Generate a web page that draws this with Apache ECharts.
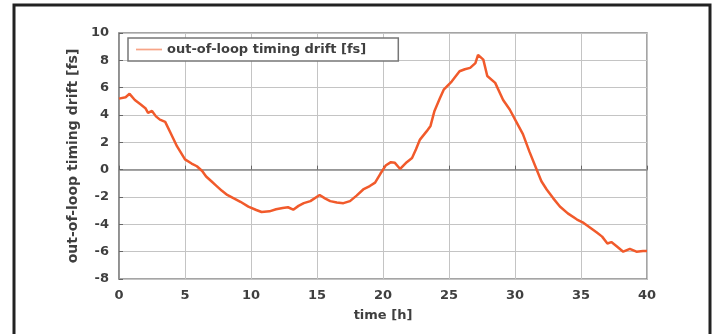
<!DOCTYPE html>
<html>
<head>
<meta charset="utf-8">
<script src="https://cdn.jsdelivr.net/npm/echarts@6/dist/echarts.min.js"></script>
<style>
  html, body { margin: 0; padding: 0; background: #fff; }
  #chart { width: 718px; height: 334px; }
</style>
</head>
<body>
<div id="chart"></div>
<script>
// time [h]
var timeH = [
  0, 0.5, 0.8, 1.2, 1.6, 2.0, 2.2, 2.5, 2.8, 3.1, 3.5, 3.9, 4.4, 5.0, 5.5, 5.9,
  6.3, 6.6, 7.0, 7.4, 7.8, 8.2, 8.7, 9.2, 9.8, 10.4, 10.8, 11.4, 11.9, 12.4,
  12.8, 13.2, 13.6, 14.0, 14.5, 15.2, 15.6, 16.0, 16.5, 17.0, 17.5, 18.0, 18.5,
  19.0, 19.4, 19.8, 20.2, 20.6, 20.9, 21.3, 21.8, 22.2, 22.5, 22.8, 23.3, 23.6,
  23.9, 24.3, 24.6, 25.2, 25.8, 26.2, 26.6, 27.0, 27.2, 27.6, 27.9, 28.5, 29.1,
  29.6, 30.1, 30.6, 31.1, 31.6, 32.0, 32.4, 32.9, 33.4, 34.0, 34.7, 35.2, 35.7,
  36.2, 36.6, 37.0, 37.3, 37.7, 38.2, 38.7, 39.2, 39.7, 40.0
];
// out-of-loop timing drift [fs]
var driftFs = [
  5.2, 5.3, 5.55, 5.1, 4.8, 4.5, 4.15, 4.3, 3.9, 3.66, 3.5, 2.7, 1.7, 0.75, 0.45, 0.25,
  -0.1, -0.5, -0.85, -1.2, -1.55, -1.85, -2.1, -2.35, -2.7, -2.95, -3.1, -3.05, -2.9, -2.8,
  -2.75, -2.93, -2.65, -2.45, -2.3, -1.85, -2.1, -2.3, -2.4, -2.45, -2.3, -1.9, -1.45,
  -1.2, -0.95, -0.3, 0.3, 0.55, 0.5, 0.05, 0.55, 0.85, 1.5, 2.2, 2.8, 3.2,
  4.3, 5.2, 5.85, 6.45, 7.2, 7.35, 7.45, 7.8, 8.4, 8.05, 6.85, 6.35, 5.1,
  4.4, 3.5, 2.6, 1.3, 0.1, -0.85, -1.45, -2.1, -2.7, -3.2, -3.65, -3.9, -4.25,
  -4.6, -4.9, -5.4, -5.3, -5.6, -6.0, -5.8, -6.0, -5.95, -5.95
];
var xTicks = [0, 5, 10, 15, 20, 25, 30, 35, 40];
var yTicks = [-8, -6, -4, -2, 0, 2, 4, 6, 8, 10];

var seriesName = "out-of-loop timing drift [fs]";
var lineColor = "#f15a2b";
var textColor = "#3f3f3f";
var fontFamily = "'DejaVu Sans', sans-serif";

var chart = echarts.init(document.getElementById("chart"));

var points = timeH.map(function (t, i) {
  return [t, driftFs[i]];
});

var option = {
  animation: false,
  backgroundColor: "#fff",
  textStyle: { fontFamily: fontFamily },
  graphic: [
    {
      type: "rect",
      shape: { x: 14, y: 5, width: 696, height: 340 },
      style: { fill: "none", stroke: "#222", lineWidth: 3 },
      silent: true,
      z: 100
    }
  ],
  grid: {
    left: 119,
    right: 71,
    top: 33,
    bottom: 55,
    show: true,
    borderColor: "#888",
    borderWidth: 1.5
  },
  legend: {
    left: 128,
    top: 38,
    data: [{ name: seriesName, icon: "path://M0,0 L30,0 L30,2 L0,2 Z" }],
    itemWidth: 26,
    itemHeight: 2,
    itemGap: 10,
    padding: [5, 32, 5, 8],
    backgroundColor: "#fff",
    borderColor: "#777",
    borderWidth: 1.5,
    borderRadius: 0,
    textStyle: {
      color: textColor,
      fontSize: 13,
      fontWeight: "bold",
      fontFamily: fontFamily
    }
  },
  xAxis: {
    type: "value",
    min: 0,
    max: 40,
    interval: 5,
    name: "time [h]",
    nameLocation: "middle",
    nameGap: 30,
    nameTextStyle: { color: textColor, fontSize: 13, fontWeight: "bold" },
    axisLine: { show: true, lineStyle: { color: "#888", width: 1.5 } },
    axisTick: { show: true, inside: true, length: 4, lineStyle: { color: "#666" } },
    axisLabel: {
      color: textColor,
      fontSize: 13,
      fontWeight: "bold",
      margin: 10,
      formatter: function (v) {
        return xTicks.indexOf(v) >= 0 ? String(v) : "";
      }
    },
    splitLine: { show: true, lineStyle: { color: "#c4c4c4", width: 1 } }
  },
  yAxis: {
    type: "value",
    min: -8,
    max: 10,
    interval: 2,
    name: seriesName,
    nameLocation: "middle",
    nameGap: 28,
    nameTextStyle: { color: textColor, fontSize: 14, fontWeight: "bold" },
    axisLine: { show: true, lineStyle: { color: "#888", width: 1.5 } },
    axisTick: { show: true, inside: true, length: 4, lineStyle: { color: "#666" } },
    axisLabel: {
      color: textColor,
      fontSize: 13,
      fontWeight: "bold",
      margin: 10,
      formatter: function (v) {
        return yTicks.indexOf(v) >= 0 ? String(v) : "";
      }
    },
    splitLine: { show: true, lineStyle: { color: "#c4c4c4", width: 1 } }
  },
  series: [
    {
      name: seriesName,
      type: "line",
      data: points,
      showSymbol: false,
      smooth: false,
      lineStyle: { color: lineColor, width: 2.5 },
      itemStyle: { color: "#f7a487" }
    }
  ]
};

chart.setOption(option);
</script>
</body>
</html>
